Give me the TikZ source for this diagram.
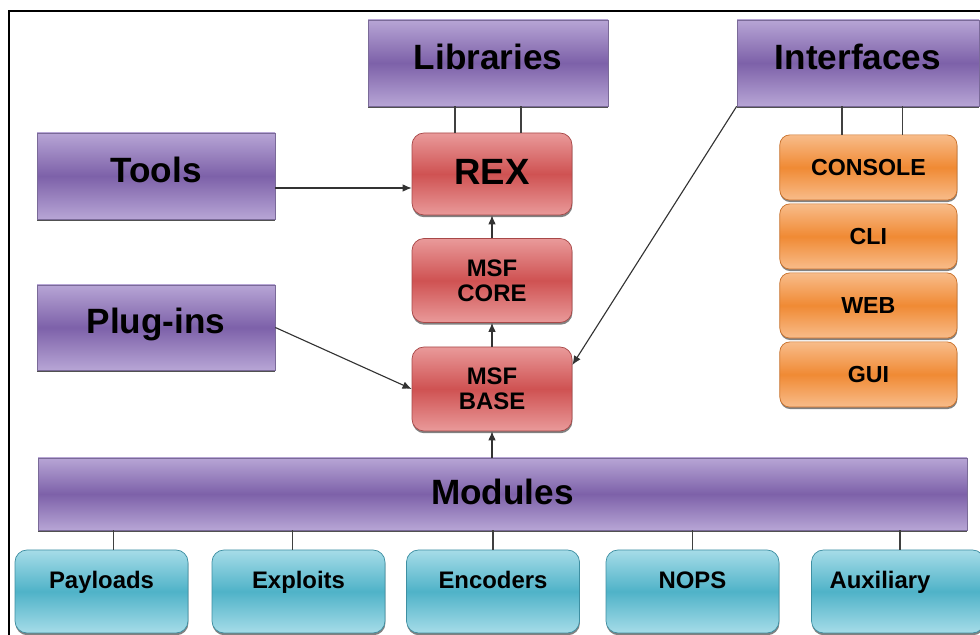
\documentclass[tikz,border=0pt]{standalone}
\usepackage{fontspec}
\setmainfont{Liberation Sans}
\usetikzlibrary{shadows,arrows.meta}

\definecolor{lilaclight}{HTML}{B7A5D5}
\definecolor{lilacdark}{HTML}{7D61A9}
\definecolor{lilacline}{HTML}{7A6A98}
\definecolor{rexlight}{HTML}{E99A9A}
\definecolor{rexdark}{HTML}{CF5252}
\definecolor{rexline}{HTML}{A84848}
\definecolor{orlight}{HTML}{F8BC8A}
\definecolor{ordark}{HTML}{F08A34}
\definecolor{orline}{HTML}{C8702A}
\definecolor{tealight}{HTML}{A6DCE8}
\definecolor{tealdark}{HTML}{4FB2C8}
\definecolor{tealine}{HTML}{3E8FA2}

\begin{document}
\begin{tikzpicture}[
	bigbox/.style={draw=lilacline,line width=0.5pt,top color=lilaclight,bottom color=lilaclight,middle color=lilacdark,
		minimum width=6cm,minimum height=2.15cm,font=\fontsize{25pt}{27pt}\selectfont\bfseries,
		text height=18pt,text depth=9pt,
		drop shadow={shadow xshift=0.3pt,shadow yshift=-1.6pt,opacity=0.85,fill=black!80}},
	redbox/.style={draw=rexline,line width=0.5pt,rounded corners=0.3cm,top color=rexlight,bottom color=rexlight,middle color=rexdark,
		minimum width=4cm,minimum height=2.1cm,align=center,font=\fontsize{17pt}{18pt}\selectfont\bfseries,
		drop shadow={shadow xshift=0.3pt,shadow yshift=-1.6pt,opacity=0.7,fill=black!70}},
	orbox/.style={draw=orline,line width=0.5pt,rounded corners=0.25cm,top color=orlight,bottom color=orlight,middle color=ordark,
		minimum width=4.43cm,minimum height=1.63cm,font=\fontsize{16.5pt}{18pt}\selectfont\bfseries,
		text height=12pt,text depth=0pt,
		drop shadow={shadow xshift=0.3pt,shadow yshift=-1.4pt,opacity=0.7,fill=black!70}},
	tealbox/.style={draw=tealine,line width=0.5pt,rounded corners=0.3cm,top color=tealight,bottom color=tealight,middle color=tealdark,
		minimum width=4.325cm,minimum height=2.075cm,font=\fontsize{17pt}{18pt}\selectfont\bfseries,
		text height=12.2pt,text depth=16pt,
		drop shadow={shadow xshift=0.3pt,shadow yshift=-1.6pt,opacity=0.7,fill=black!70}},
	link/.style={draw=black!75,line width=0.8pt},
	arrow/.style={draw=black!80,line width=0.8pt,-{Latex[length=6.5pt,width=5.5pt]}}
	]
	\useasboundingbox (0,0) rectangle (24.5,15.875);
	
	%frame
	\draw[line width=1.2pt] (0.225,0)--(0.225,15.6)--(24.5,15.6);
	
	%Top row
	\node[bigbox] at (12.2,14.3) (lib) {Libraries};
	\node[bigbox,minimum width=6.05cm] at (21.45,14.3) (int) {Interfaces};
	\node[bigbox,minimum width=5.95cm] at (3.9,11.475) (tools) {Tools};
	\node[bigbox,minimum width=5.95cm,minimum height=2.125cm] at (3.9,7.6875) (plug) {Plug-ins};
	
	%Framework
	\node[redbox,minimum height=2.05cm,font=\fontsize{26pt}{27pt}\selectfont\bfseries,text height=19pt,text depth=4pt] at (12.3,11.525) (rex) {REX};
	\node[redbox] at (12.3,8.8625) (core) {MSF\\CORE};
	\node[redbox] at (12.3,6.15) (base) {MSF\\BASE};
	
	%Interfaces
	\node[orbox] at (21.71,11.6875) (console) {CONSOLE};
	\node[orbox] at (21.71,9.9625) (cli) {CLI};
	\node[orbox] at (21.71,8.2375) (web) {WEB};
	\node[orbox] at (21.71,6.5125) (gui) {GUI};
	
	%Modules
	\node[bigbox,minimum width=23.225cm,minimum height=1.8cm,text depth=3pt] at (12.5625,3.525) (mod) {Modules};
	\node[tealbox] at (2.5375,1.0875) (pay) {Payloads};
	\node[tealbox] at (7.4625,1.0875) (exp) {Exploits};
	\node[tealbox] at (12.325,1.0875) (enc) {Encoders};
	\node[tealbox] at (17.3125,1.0875) (nops) {NOPS};
	\node[tealbox] at (22.45,1.0875) (aux) {Auxiliary\hspace*{0.9cm}};
	
	%Links
	\draw[link] ([xshift=-0.825cm]lib.south)--([xshift=-0.825cm]lib.south |- rex.north);
	\draw[link] ([xshift=0.825cm]lib.south)--([xshift=0.825cm]lib.south |- rex.north);
	\draw[link] ([xshift=-0.66cm]console.north)--([xshift=-0.66cm]console.north |- int.south);
	\draw[link] ([xshift=0.86cm]console.north)--([xshift=0.86cm]console.north |- int.south);
	\foreach \m/\dx in {pay/0.29,exp/-0.14,enc/0,nops/0,aux/0.05}
		\draw[link] ([xshift=\dx cm]\m.north)--([xshift=\dx cm]\m.north |- mod.south);
	
	%Arrows
	\draw[arrow] ([yshift=-0.3cm]tools.east)--([yshift=-0.3cm]tools.east -| rex.west);
	\draw[arrow] (plug.east)--(base.west);
	\draw[arrow] (int.south west)--([yshift=0.6cm]base.east);
	\draw[arrow] (core.north)--(rex.south);
	\draw[arrow] (base.north)--(core.south);
	\draw[arrow] (mod.north -| base.south)--(base.south);
	
\end{tikzpicture}
\end{document}
